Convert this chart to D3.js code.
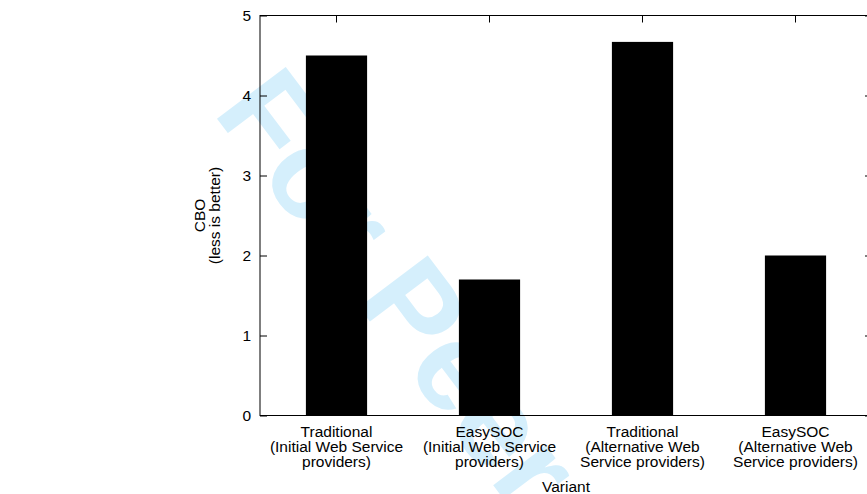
<!DOCTYPE html>
<html>
<head>
<meta charset="utf-8">
<script src="https://cdn.jsdelivr.net/npm/d3@7/dist/d3.min.js"></script>
<style>
html, body { margin: 0; padding: 0; background: #fff; overflow: hidden; }
svg { display: block; }
text { font-family: "Liberation Sans", Arial, Helvetica, sans-serif; fill: #000; }
</style>
</head>
<body>
<svg id="chart" width="867" height="494"></svg>
<script>
// ---- data ----
const categories = [
  ["Traditional", "(Initial Web Service", "providers)"],
  ["EasySOC", "(Initial Web Service", "providers)"],
  ["Traditional", "(Alternative Web", "Service providers)"],
  ["EasySOC", "(Alternative Web", "Service providers)"]
];
const values = [4.5, 1.7, 4.67, 2.0];
const yTicks = [0, 1, 2, 3, 4, 5];
const yLabelLines = ["CBO", "(less is better)"];
const xLabel = "Variant";
const watermark = "For Peer Review";

// ---- layout ----
const mLeft = 260, mRight = 872, mTop = 15.5, mBottom = 415.5;
const svg = d3.select("#chart");

// watermark (behind chart)
svg.append("text")
  .attr("transform", "translate(212,112) rotate(53)")
  .attr("font-size", 125)
  .attr("font-weight", "bold")
  .style("fill", "#d5effc")
  .text(watermark);

const idx = categories.map((d, i) => i);
const x = d3.scaleBand().domain(idx).range([mLeft, mRight]).paddingInner(0.6).paddingOuter(0.3);
const y = d3.scaleLinear().domain([0, 5]).range([mBottom, mTop]);

// bars
svg.append("g").selectAll("rect").data(values).join("rect")
  .attr("x", (d, i) => x(i))
  .attr("y", d => y(d))
  .attr("width", x.bandwidth())
  .attr("height", d => y(0) - y(d))
  .attr("fill", "#000");

const tickLen = 7;
const fs = 15.5;

const yAxisL = svg.append("g").attr("transform", `translate(${mLeft},0)`)
  .call(d3.axisRight(y).tickValues(yTicks).tickSize(tickLen).tickFormat(""));
const yAxisR = svg.append("g").attr("transform", `translate(${mRight},0)`)
  .call(d3.axisLeft(y).tickValues(yTicks).tickSize(tickLen).tickFormat(""));
const xAxisT = svg.append("g").attr("transform", `translate(0,${mTop})`)
  .call(d3.axisBottom(x).tickSize(tickLen).tickFormat(""));
const xAxisB = svg.append("g").attr("transform", `translate(0,${mBottom})`)
  .call(d3.axisTop(x).tickSize(tickLen).tickFormat(""));
[yAxisL, yAxisR, xAxisT, xAxisB].forEach(g => {
  g.select(".domain").remove();
  g.selectAll("line").attr("stroke", "#000").attr("stroke-width", 1);
});

// border
svg.append("rect")
  .attr("x", mLeft).attr("y", mTop)
  .attr("width", mRight - mLeft).attr("height", mBottom - mTop)
  .attr("fill", "none").attr("stroke", "#000").attr("stroke-width", 1);

// y tick labels
svg.append("g").selectAll("text").data(yTicks).join("text")
  .attr("x", mLeft - 9)
  .attr("y", d => y(d) + 5.5)
  .attr("text-anchor", "end")
  .attr("font-size", fs)
  .text(d => d);

// x category labels (one text per line)
const lineData = [];
categories.forEach((lines, i) => lines.forEach((t, j) => lineData.push({ i, j, t })));
svg.append("g").selectAll("text").data(lineData).join("text")
  .attr("text-anchor", "middle")
  .attr("font-size", fs)
  .attr("x", d => x(d.i) + x.bandwidth() / 2)
  .attr("y", d => 436.7 + d.j * 15)
  .text(d => d.t);

// x axis title
svg.append("text")
  .attr("x", (mLeft + mRight) / 2).attr("y", 491.5)
  .attr("text-anchor", "middle")
  .attr("font-size", fs)
  .text(xLabel);

// y axis title
const cy = (mTop + mBottom) / 2;
svg.append("g").selectAll("text").data(yLabelLines).join("text")
  .attr("transform", (d, i) => `translate(${205 + i * 14.5},${cy}) rotate(-90)`)
  .attr("text-anchor", "middle")
  .attr("font-size", fs)
  .text(d => d);
</script>
</body>
</html>
